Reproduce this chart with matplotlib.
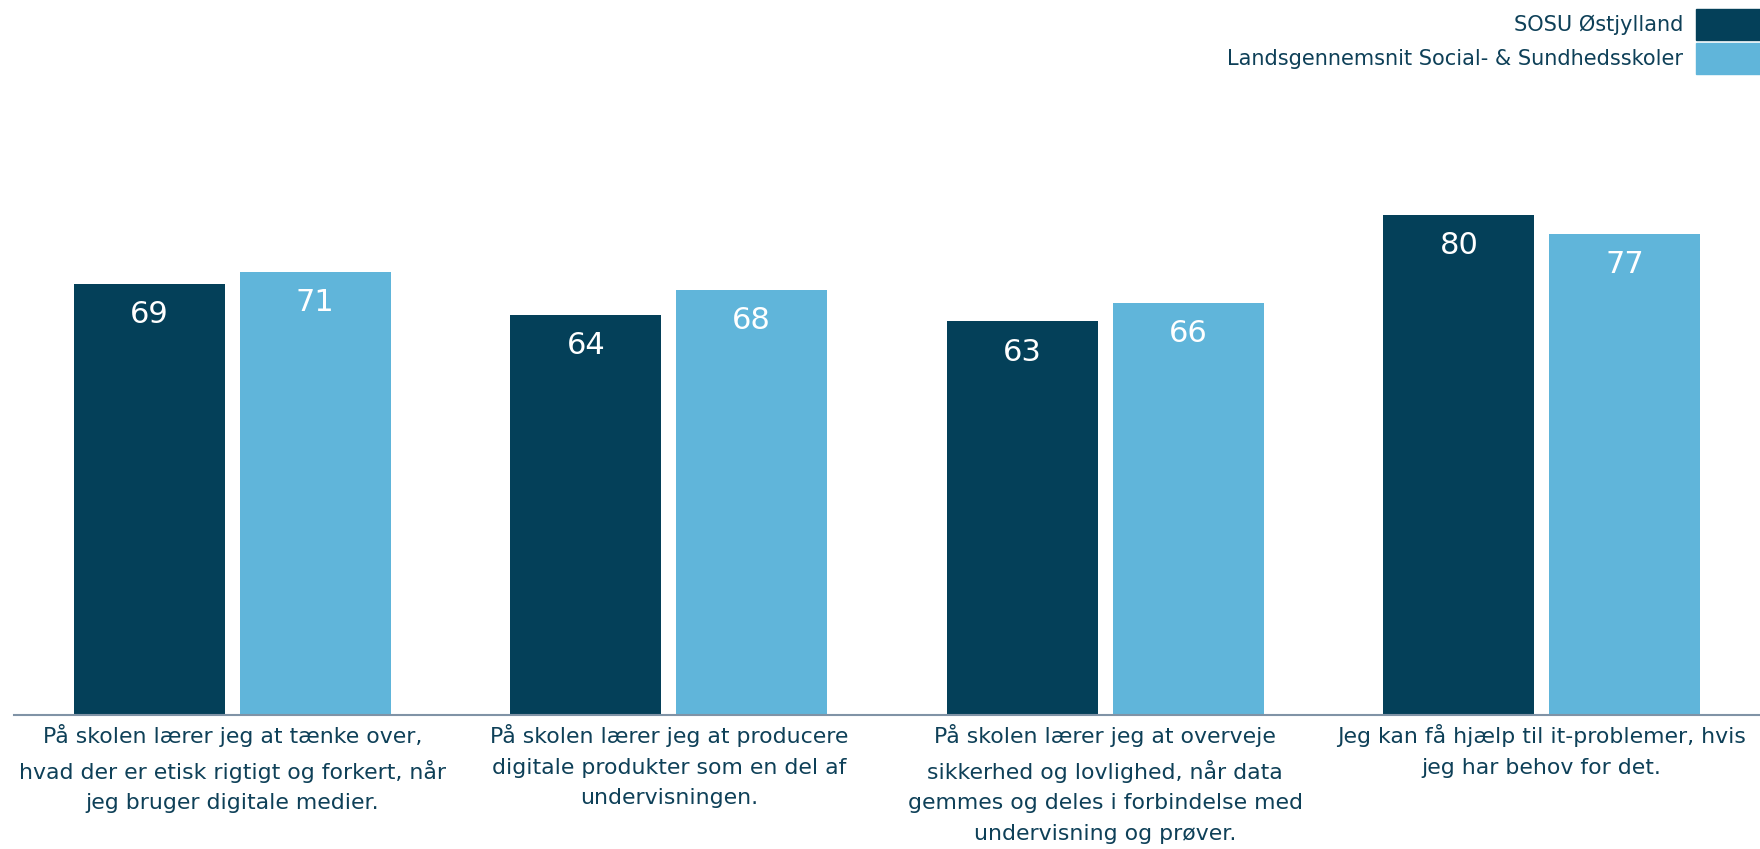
import numpy as np
import matplotlib.pyplot as plt
from matplotlib.patches import Patch

# survey statements and average scores
categories = [
    "På skolen lærer jeg at tænke over,\nhvad der er etisk rigtigt og forkert, når\njeg bruger digitale medier.",
    "På skolen lærer jeg at producere\ndigitale produkter som en del af\nundervisningen.",
    "På skolen lærer jeg at overveje\nsikkerhed og lovlighed, når data\ngemmes og deles i forbindelse med\nundervisning og prøver.",
    "Jeg kan få hjælp til it-problemer, hvis\njeg har behov for det.",
]
series_names = ["SOSU Østjylland", "Landsgennemsnit Social- & Sundhedsskoler"]
sosu = [69, 64, 63, 80]
national = [71, 68, 66, 77]

DARK, LIGHT, TXT = '#044059', '#60b5da', '#0e4058'

W, H = 1760, 849
fig = plt.figure(figsize=(W/100, H/100), dpi=100)
ax = fig.add_axes([14/W, 1 - 714.6/H, 1 - 14/W, 624/H])

x = np.arange(len(categories))
bw, off = 0.346, 0.19
for vals, dx, col in [(sosu, -off, DARK), (national, off, LIGHT)]:
    bars = ax.bar(x + dx, vals, width=bw, color=col)
    for b, v in zip(bars, vals):
        ax.annotate(str(v), (b.get_x() + b.get_width()/2, v), xytext=(0, -22),
                    textcoords='offset points', ha='center', va='center',
                    color='white', fontsize=22)

ax.set_xlim(-0.5, 3.5)
ax.set_ylim(0, 100)
ax.set_yticks([])
ax.set_xticks(x, categories, fontsize=15.8, color=TXT, linespacing=1.66)
ax.tick_params(axis='x', length=0, pad=7)
for s in ['top', 'right', 'left']:
    ax.spines[s].set_visible(False)
ax.spines['bottom'].set_color('#8093a6')
ax.spines['bottom'].set_linewidth(1.5)

handles = [Patch(color=DARK), Patch(color=LIGHT)]
fig.legend(handles, series_names, loc='upper right', bbox_to_anchor=(1.0, 1 - 9/H),
           frameon=False, markerfirst=False, fontsize=15, labelcolor=TXT,
           handlelength=3.07, handleheight=1.91, handletextpad=0.62,
           labelspacing=0.14, borderpad=0, borderaxespad=0)

fig.savefig('out.png', dpi=100)
